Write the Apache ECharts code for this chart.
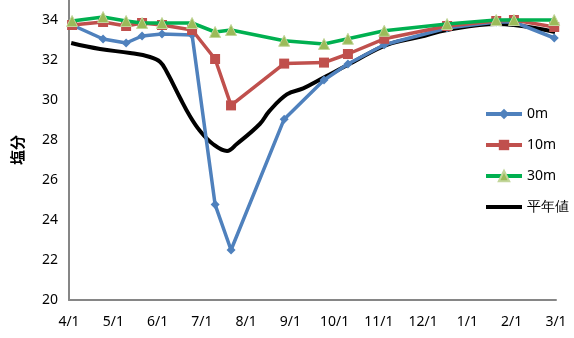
<!DOCTYPE html>
<html><head><meta charset="utf-8">
<script src="https://cdn.jsdelivr.net/npm/echarts@6/dist/echarts.min.js"></script>
<style>html,body{margin:0;padding:0;background:#fff}#c{width:574px;height:338px}</style>
</head><body><div id="c"></div>
<script>
// month index positions (0 = 4/1, 11 = 3/1)
const tickLabels = ['4/1','5/1','6/1','7/1','8/1','9/1','10/1','11/1','12/1','1/1','2/1','3/1'];
const obsX = [0.07,0.77,1.29,1.65,2.10,2.78,3.30,3.66,4.86,5.76,6.30,7.12,8.54,9.65,10.05,10.96];
const s0m  = [33.75,33.05,32.85,33.2,33.3,33.25,24.77,22.5,29.04,31.0,31.8,32.76,33.6,33.9,33.9,33.1];
const s10m = [33.75,33.9,33.7,33.85,33.75,33.5,32.05,29.73,31.82,31.87,32.3,33.06,33.7,33.95,34.0,33.65];
const s30m = [33.95,34.15,33.95,33.85,33.85,33.85,33.4,33.5,32.96,32.8,33.06,33.46,33.8,34.0,34.0,34.0];
const normX = [0.05,0.70,1.38,1.83,2.06,2.21,2.51,2.73,2.96,3.25,3.57,3.79,4.31,4.52,4.92,5.29,5.67,6.42,7.18,7.93,8.54,9.67,10.98];
const normV = [32.85,32.55,32.35,32.15,31.9,31.4,30.1,29.2,28.45,27.8,27.45,27.8,28.8,29.43,30.28,30.58,31.02,31.9,32.76,33.16,33.5,33.8,33.4];

const pair = (xs, ys) => xs.map((x, i) => [x, ys[i]]);
const font = '"Noto Sans", sans-serif';
const chart = echarts.init(document.getElementById('c'));
chart.setOption({
  animation: false,
  grid: {left: 69, right: 18, top: -2, bottom: 38},
  legend: {
    orient: 'vertical', left: 479, top: 102, itemWidth: 36, itemHeight: 13, itemGap: 17,
    lineStyle: {width: 4},
    textStyle: {fontFamily: font, fontSize: 14, color: '#000'},
    data: ['0m','10m','30m',
      {name: '平年値', itemStyle: {color: 'rgba(0,0,0,0)', borderColor: 'rgba(0,0,0,0)', borderWidth: 0}}]
  },
  xAxis: {
    type: 'value', min: 0, max: 11, interval: 1,
    axisLine: {lineStyle: {color: '#868686', width: 2}},
    axisTick: {show: false}, splitLine: {show: false},
    axisLabel: {margin: 15, fontFamily: font, fontSize: 14, color: '#000',
      formatter: v => tickLabels[Math.round(v)]}
  },
  yAxis: {
    type: 'value', min: 20, max: 35, interval: 2,
    name: '塩分', nameLocation: 'middle', nameGap: 44, nameRotate: 90,
    nameTextStyle: {fontFamily: '"Noto Sans CJK JP", sans-serif', fontSize: 15, fontWeight: 'bold', color: '#000'},
    axisLine: {show: true, lineStyle: {color: '#868686', width: 2}},
    axisTick: {show: false}, splitLine: {show: false},
    axisLabel: {margin: 11, fontFamily: font, fontSize: 14, color: '#000',
      formatter: v => (v % 2 === 0 && v <= 34) ? String(v) : ''}
  },
  series: [
    {name: '0m', type: 'line', data: pair(obsX, s0m), symbol: 'diamond', symbolSize: 9,
      lineStyle: {color: '#4F81BD', width: 3.5}, itemStyle: {color: '#4F81BD'}, z: 3},
    {name: '10m', type: 'line', data: pair(obsX, s10m), symbol: 'rect', symbolSize: 10,
      lineStyle: {color: '#C0504D', width: 3.5}, itemStyle: {color: '#C0504D'}, z: 4},
    {name: '30m', type: 'line', data: pair(obsX, s30m), symbol: 'triangle', symbolSize: 11,
      lineStyle: {color: '#00B050', width: 3.5}, itemStyle: {color: '#9BBB59', borderColor: '#C3D69B', borderWidth: 1}, z: 5},
    {name: '平年値', type: 'line', data: pair(normX, normV), symbol: 'none', smooth: 0.4,
      lineStyle: {color: '#000', width: 4}, itemStyle: {color: '#000'}, z: 2}
  ]
});
</script></body></html>
